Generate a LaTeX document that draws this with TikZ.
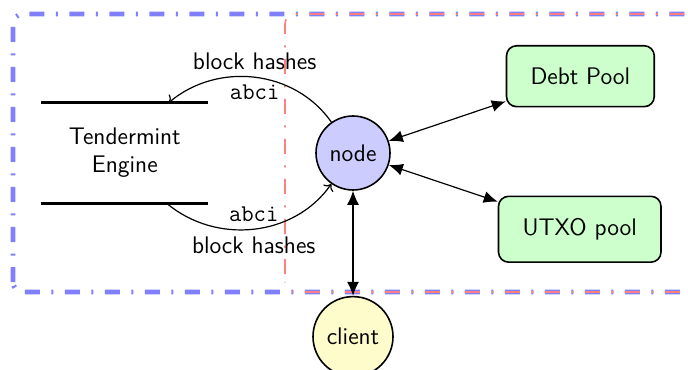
\documentclass[tikz,border=0pt]{standalone}
\usepackage{xcolor}
\usepackage{tikz}
\usetikzlibrary{arrows.meta, positioning, calc}

\begin{document}
\begin{tikzpicture}[
            x=0.5pt, y=0.5pt,
            font=\sffamily\large,
            node distance=50pt,
            peer/.style={circle, draw, thick, minimum size=37pt, inner sep=0pt},
            pool/.style={rectangle, rounded corners=5pt, draw, thick, fill=green!20, inner xsep=12pt, inner ysep=11pt},
            engline/.style={line width=1.3pt},
            link/.style={{Latex[length=7pt,width=6pt]}-{Latex[length=7pt,width=6pt]}, semithick},
            call/.style={->, semithick},
            zone/.style={rounded corners=5pt, dash pattern=on 7.5pt off 5.75pt on 1pt off 5.75pt}
        ]
            \useasboundingbox (0,0) rectangle (688,369);

            % Zones
            \draw[zone, blue!50, line width=2.4pt] (13,77) rectangle (720,355);
            \draw[zone, red!50, thick, dash phase=16pt] (285,77) rectangle (720,355);

            % Nodes
            \node[peer, fill=blue!20] (node) at (353,216) {node};
            \node[peer, fill=yellow!20, minimum size=40pt, below=52.5pt of node] (client) {client};
            \node[pool, above right=9.4pt and 63pt of node] (debt) {Debt Pool};
            \node[pool, below right=7.9pt and 59pt of node] (utxo) {UTXO pool};
            \node[left=53.5pt of node, minimum width=83pt, minimum height=50pt, inner sep=0pt, align=center] (engine) {Tendermint\\Engine};
            \draw[engline] (engine.north west) -- (engine.north east);
            \draw[engline] (engine.south west) -- (engine.south east);

            % Arrows
            \draw[call] (node) to[out=125, in=40]
                node[above] {block hashes}
                node[below] {\texttt{abci}} ([xshift=22pt]engine.north);
            \draw[call] ([xshift=21pt]engine.south) to[out=-40, in=-125]
                node[above] {\texttt{abci}}
                node[below] {block hashes} (node);
            \draw[link] (node) -- (debt);
            \draw[link] (node) -- (utxo);
            \draw[link] (node) -- (client);
        \end{tikzpicture}
\end{document}
